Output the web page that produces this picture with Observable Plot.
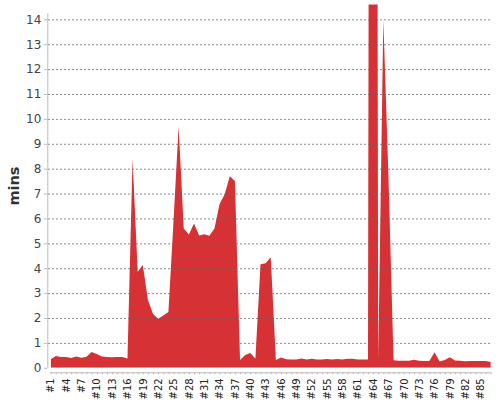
<!DOCTYPE html>
<html><head><meta charset="utf-8">
<script src="https://cdn.jsdelivr.net/npm/d3@7"></script>
<script src="https://cdn.jsdelivr.net/npm/@observablehq/plot@0.6"></script>
<style>body{margin:0;background:#fff;}</style>
</head><body><div id="chart"></div>
<script>
const categories = ["#1","#2","#3","#4","#5","#6","#7","#8","#9","#10","#11","#12","#13","#14","#15","#16","#17","#18","#19","#20","#21","#22","#23","#24","#25","#26","#27","#28","#29","#30","#31","#32","#33","#34","#35","#36","#37","#38","#39","#40","#41","#42","#43","#44","#45","#46","#47","#48","#49","#50","#51","#52","#53","#54","#55","#56","#57","#58","#59","#60","#61","#62","#63","#64","#65","#66","#67","#68","#69","#70","#71","#72","#73","#74","#75","#76","#77","#78","#79","#80","#81","#82","#83","#84","#85","#86","#87"];
const mins = [0.34,0.47,0.43,0.43,0.39,0.45,0.40,0.44,0.63,0.55,
  0.45,0.43,0.42,0.43,0.43,0.37,8.4,3.86,4.13,2.72,
  2.16,1.97,2.1,2.24,5.9,9.7,5.6,5.36,5.8,5.32,
  5.37,5.31,5.6,6.58,6.97,7.7,7.5,0.31,0.51,0.59,
  0.37,4.16,4.2,4.44,0.31,0.41,0.34,0.33,0.33,0.37,
  0.33,0.36,0.33,0.33,0.35,0.33,0.35,0.33,0.36,0.36,
  0.33,0.33,0.33,120,0.33,14.0,7.7,0.3,0.28,0.28,
  0.28,0.32,0.28,0.27,0.27,0.62,0.25,0.31,0.42,0.29,
  0.28,0.26,0.27,0.27,0.27,0.27,0.23];
const tickLabels = ["#1","#4","#7","#10","#13","#16","#19","#22","#25","#28","#31","#34","#37","#40","#43","#46","#49","#52","#55","#58","#61","#64","#67","#70","#73","#76","#79","#82","#85"];
const yTicks = [0,1,2,3,4,5,6,7,8,9,10,11,12,13,14];
const gridValues = [1,2,3,4,5,6,7,8,9,10,11,12,13,14];
const yLabel = "mins";

const data = categories.map((c, i) => ({cat: c, mins: mins[i]}));

const chart = Plot.plot({
  width: 500, height: 400,
  marginLeft: 50.7, marginRight: 9.2, marginTop: 4.4, marginBottom: 32.2,
  style: {fontFamily: "DejaVu Sans", background: "#fff", overflow: "visible"},
  x: {type: "point", domain: categories, padding: 0, round: false, axis: null, label: null},
  y: {domain: [0, 14.6], axis: null, label: null},
  marks: [
    Plot.areaY(data, {x: "cat", y: "mins", fill: "#d63236", clip: true}),
    Plot.ruleY(gridValues, {stroke: "#666", strokeDasharray: "2,2", strokeOpacity: 0.75, insetLeft: -2.7}),
    Plot.ruleX([categories[0]], {y1: 0, y2: 14.24, dx: -3.4, stroke: "#bbb"}),
    Plot.axisY({ticks: yTicks, tickSize: 3.5, tickPadding: 3, dx: -3.4, stroke: "#bbb", fill: "#444", fontSize: 12, label: null}),
    Plot.ruleY([0], {dy: 4.5, stroke: "#bbb", insetLeft: -0.7}),
    Plot.axisX({ticks: categories, tickSize: 2, dy: 4.5, stroke: "#bbb", tickFormat: () => "", label: null}),
    Plot.axisX({ticks: tickLabels, tickSize: 0, tickPadding: 10, tickRotate: -90, fontSize: 10, fill: "#222", label: null}),
    Plot.text([yLabel], {frameAnchor: "left", rotate: -90, dx: -37.2, dy: 19, fontSize: 14.5, fontWeight: "bold", fill: "#333"})
  ]
});
document.getElementById("chart").appendChild(chart);
</script>
</body></html>
